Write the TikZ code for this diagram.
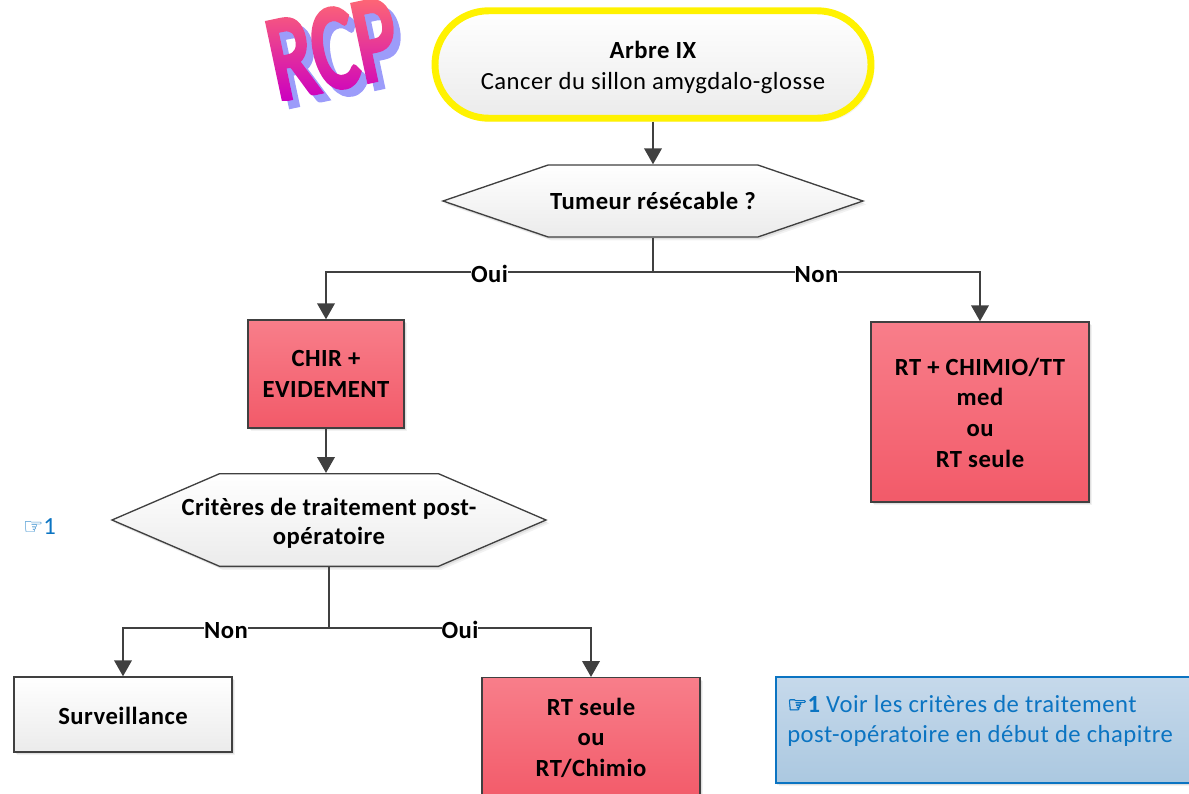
\documentclass[tikz,border=0pt]{standalone}
\usepackage{fontspec}
\setmainfont{Carlito}[LetterSpace=2]
\newfontfamily\dejavu{DejaVu Sans}
\newfontfamily\dejavubold{DejaVu Sans}[FakeBold=2.5]
\newfontfamily\logofont{Carlito}[FakeBold=5]
\usetikzlibrary{arrows.meta,shapes.symbols,shapes.misc,shadows,fadings}
\definecolor{linec}{HTML}{404040}
\definecolor{bluec}{HTML}{0B74C2}
\definecolor{redtop}{HTML}{F87E8A}
\definecolor{redbot}{HTML}{F25A69}
\definecolor{graybot}{HTML}{EBEBEB}
\definecolor{notetop}{HTML}{C6D9EB}
\definecolor{notebot}{HTML}{ABC8E0}
\definecolor{logoshadowc}{HTML}{9C9CFA}
\definecolor{logotop}{HTML}{FF6A72}
\definecolor{logobot}{HTML}{CC00C0}
\newcommand{\mylines}[2][0pt]{\raisebox{#1}[\height][\depth]{\begin{tabular}{@{}c@{}}#2\end{tabular}}}
\begin{tikzfadingfrompicture}[name=rcpfade]
  \node[text=transparent!0,font=\fontsize{90}{90}\logofont,rotate=12,xscale=.68,inner sep=0pt] at (0,0) {RCP};
\end{tikzfadingfrompicture}
\tikzset{
  x=0.75pt,y=-0.75pt,
  softshadow/.style={
    general shadow={shadow xshift=2.4pt,shadow yshift=-2.6pt,fill=black,opacity=.05},
    general shadow={shadow xshift=1.2pt,shadow yshift=-1.6pt,fill=black,opacity=.08}},
  lbl/.style={font=\fontsize{18.5}{23}\selectfont\bfseries,text=black,align=center,inner sep=0pt},
  rednode/.style={rectangle,draw=linec,line width=1pt,top color=redtop,bottom color=redbot,softshadow,lbl},
  whitenode/.style={rectangle,draw=linec,line width=1pt,top color=white,bottom color=graybot,softshadow,lbl},
  hexnode/.style={signal,signal to=east and west,draw=linec,line width=1pt,top color=white,bottom color=graybot,softshadow,lbl},
  conn/.style={draw=linec,line width=2pt,-{Triangle[width=13pt,length=12pt]}},
  plainconn/.style={draw=linec,line width=2pt},
  edgelbl/.style={lbl,fill=white,inner xsep=0pt,inner ysep=1pt,yshift=-1.8pt},
}
\begin{document}
\begin{tikzpicture}
\useasboundingbox (0,0) rectangle (1189,793);
\clip (0,0) rectangle (1189,793);
% logo
\node[text=logoshadowc,font=\fontsize{90}{90}\logofont,rotate=12,xscale=.68,inner sep=0pt] (logoshadow) at (340,56) {RCP};
\shade[top color=logotop,bottom color=logobot,path fading=rcpfade,fit fading=false,fading transform={shift={(333,49)}}] (250,-5) rectangle (420,100);
% start
\node[rounded rectangle,minimum width=327pt,minimum height=80.6pt,draw=yellow,line width=5.2pt,top color=white,bottom color=graybot,softshadow,align=center,inner sep=0pt,font=\fontsize{18.5}{23.3}\selectfont] (start) at (653,64.5) {\mylines[-2.25pt]{\bfseries Arbre IX\\Cancer du sillon amygdalo-glosse}};
% hexagons
\node[hexnode,minimum width=315pt,minimum height=54pt,signal pointer angle=37.8] (q1) at (653,201) {\makebox[0pt]{Tumeur résécable ?}};
\node[hexnode,minimum width=325.5pt,minimum height=69.5pt,signal pointer angle=46.6] (q2) at (329,520) {\makebox[0pt]{\mylines[-3pt]{Critères de traitement post-\\[-1.5pt]opératoire}}};
% rects
\node[rednode,minimum width=117pt,minimum height=81pt] (chir) at (326,374) {\mylines[-1.5pt]{CHIR +\\EVIDEMENT}};
\node[rednode,minimum width=163.5pt,minimum height=135pt] (rtc) at (980,412) {\mylines[-2.25pt]{RT + CHIMIO/TT\\med\\ou\\RT seule}};
\node[whitenode,minimum width=163.5pt,minimum height=56.25pt] (surv) at (123,714.5) {\raisebox{-.75pt}[\height][\depth]{Surveillance}};
\node[rednode,minimum width=163.5pt,minimum height=93pt,anchor=north] (rts) at (591,677) {\mylines{RT seule\\ou\\RT/Chimio}};
% note
\node[rectangle,draw=bluec,line width=1.2pt,top color=notetop,bottom color=notebot,softshadow,anchor=north west,minimum width=322pt,minimum height=79.5pt] (note) at (775,676) {};
\node[anchor=north west,text=bluec,align=left,inner sep=0pt,font=\fontsize{18.5}{22.5}\selectfont] (notetxt) at (787,695) {{\fontsize{17}{22}\dejavubold\symbol{"261E}}{\bfseries 1} Voir les critères de traitement\\post-opératoire en début de chapitre};
\node[text=bluec,inner sep=0pt,font=\fontsize{18.5}{22}\selectfont] (ref) at (39.5,527) {{\fontsize{17}{22}\dejavu\symbol{"261E}}1};
% junctions
\coordinate (j1) at (653,272);
\coordinate (j2) at (329,628);
% connectors
\draw[conn] (start.south) -- (q1.north);
\draw[plainconn] (q1.south) -- (j1);
\draw[conn] (j1) -| node[edgelbl,pos=.25] (oui1) {Oui} (chir.north);
\draw[conn] (j1) -| node[edgelbl,pos=.25] (non1) {Non} (rtc.north);
\draw[conn] (chir.south) -- (chir.south |- q2.north);
\draw[plainconn] (q2.south) -- (j2);
\draw[conn] (j2) -| node[edgelbl,pos=.25] (non2) {Non} (surv.north);
\draw[conn] (j2) -| node[edgelbl,pos=.25] (oui2) {Oui} (rts.north);
\end{tikzpicture}
\end{document}
